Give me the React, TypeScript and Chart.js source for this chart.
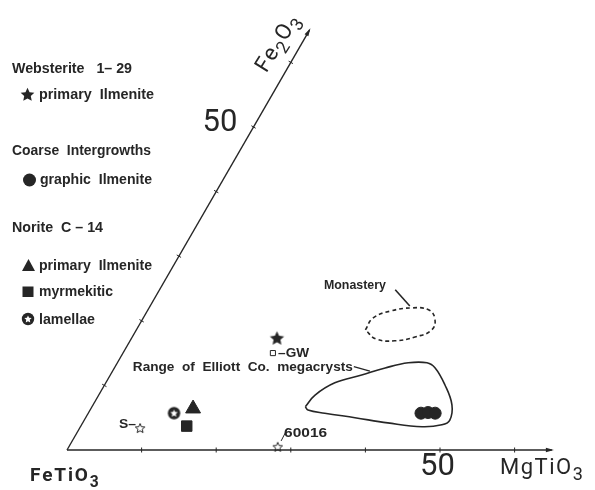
import React, { useEffect, useRef } from 'react';
import { Chart, registerables } from 'chart.js';

Chart.register(...registerables);

// ---------- data (ternary: [MgTiO3 %, Fe2O3 %]) ----------
const AXIS_END = 65;
const TICK_VALUES = [10, 20, 30, 40, 50, 60];
const WEBSTERITE_PRIMARY = [[19.5, 17.3]];
const GW_POINT = [[20.1, 15.0]];
const S_POINT = [[8.1, 3.4]];
const P60016 = [[28.0, 0.5]];
const NORITE_LAMELLAE = [[11.5, 5.7]];
const NORITE_PRIMARY = [[13.7, 6.4]];
const NORITE_MYRMEKITIC = [[14.2, 3.7]];
const COARSE_GRAPHIC = [[44.6, 5.7], [45.5, 5.8], [46.5, 5.7]];
const ELLIOTT_RANGE = [
  [28.6, 6.7], [29.0, 8.5], [30.7, 10.4], [33.7, 11.6], [36.3, 12.7], [39.0, 13.5],
  [41.5, 13.5], [43.0, 12.7], [45.6, 10.1], [48.1, 7.0], [49.0, 4.6], [48.3, 3.9],
  [45.8, 3.6], [40.9, 4.2], [36.1, 5.0], [31.7, 5.7], [29.2, 6.2], [28.6, 6.7],
];
const MONASTERY_RANGE = [
  [30.7, 18.6], [30.8, 20.4], [32.6, 21.5], [35.3, 22.0], [37.6, 21.7], [39.1, 20.4],
  [39.6, 18.6], [37.9, 17.5], [35.5, 16.9], [32.8, 17.2], [30.7, 18.6],
];
const LEADER_MONASTERY = [[31.6, 24.8], [34.8, 22.3]];
const LEADER_ELLIOTT = [[32.0, 12.9], [34.5, 12.2]];
const LEADER_60016 = [[28.0, 1.4], [27.9, 3.3]];

// ---------- layout / style ----------
const W = 595;
const H = 490;
const PX = 7.46; // pixels per percent
const ORIGIN_X = 67;
const ORIGIN_Y = 450;
const INK = '#262626';
const LABEL_FAMILY = '"Liberation Sans", Arial, sans-serif';
const BIG_FONT = 'Roboto, "Liberation Sans", sans-serif';

const tern = (p: number[]) => ({ x: p[0] + p[1] / 2, y: (p[1] * Math.sqrt(3)) / 2 });
const pts = (arr: number[][]) => arr.map(tern);

function starPath(ctx: CanvasRenderingContext2D, cx: number, cy: number, R: number, r: number) {
  ctx.beginPath();
  for (let i = 0; i < 10; i++) {
    const a = -Math.PI / 2 + (i * Math.PI) / 5;
    const rad = i % 2 === 0 ? R : r;
    const x = cx + Math.cos(a) * rad;
    const y = cy + Math.sin(a) * rad;
    if (i === 0) ctx.moveTo(x, y);
    else ctx.lineTo(x, y);
  }
  ctx.closePath();
}

function makeCanvas(size: number, draw: (c: CanvasRenderingContext2D, s: number) => void) {
  const c = document.createElement('canvas');
  c.width = size;
  c.height = size;
  const ctx = c.getContext('2d')!;
  draw(ctx, size);
  return c;
}

const filledStar = (ctx: CanvasRenderingContext2D, x: number, y: number, R: number) => {
  starPath(ctx, x, y, R, R * 0.48);
  ctx.fillStyle = INK;
  ctx.fill();
};
const openStar = (ctx: CanvasRenderingContext2D, x: number, y: number, R: number) => {
  starPath(ctx, x, y, R, R * 0.45);
  ctx.fillStyle = '#fff';
  ctx.fill();
  ctx.strokeStyle = INK;
  ctx.lineWidth = 1;
  ctx.stroke();
};
const lamellaeSym = (ctx: CanvasRenderingContext2D, x: number, y: number, r: number) => {
  ctx.beginPath();
  ctx.arc(x, y, r, 0, Math.PI * 2);
  ctx.fillStyle = INK;
  ctx.fill();
  starPath(ctx, x, y + 0.3, r * 0.62, r * 0.3);
  ctx.fillStyle = '#fff';
  ctx.fill();
};

type Part = [string, boolean];
function chemWidth(ctx: CanvasRenderingContext2D, parts: Part[], size: number, weight: string, spacing: number) {
  let w = 0;
  for (const [t, sub] of parts) {
    ctx.font = `${weight} ${sub ? size * 0.82 : size}px ${BIG_FONT}`;
    for (const ch of t) w += ctx.measureText(ch).width + spacing;
  }
  return w - spacing;
}
function drawChem(ctx: CanvasRenderingContext2D, parts: Part[], x: number, y: number, size: number, weight: string, spacing: number) {
  let cx = x;
  ctx.textBaseline = 'alphabetic';
  ctx.textAlign = 'left';
  for (const [t, sub] of parts) {
    ctx.font = `${weight} ${sub ? size * 0.82 : size}px ${BIG_FONT}`;
    for (const ch of t) {
      ctx.fillText(ch, cx, y + (sub ? size * 0.28 : 0));
      cx += ctx.measureText(ch).width + spacing;
    }
  }
}

// draws bold label text squeezed horizontally to a given width (condensed look)
function fitText(ctx: CanvasRenderingContext2D, s: string, x: number, y: number, width: number, size: number, align: 'left' | 'right' = 'left') {
  ctx.font = `700 ${size}px ${LABEL_FAMILY}`;
  ctx.textAlign = 'left';
  ctx.textBaseline = 'middle';
  const m = ctx.measureText(s).width;
  const k = width / m;
  ctx.save();
  ctx.translate(align === 'left' ? x : x - width, y);
  ctx.scale(k, 1);
  ctx.fillText(s, 0, 0);
  ctx.restore();
}

const overlayPlugin = {
  id: 'ternaryOverlay',
  afterDatasetsDraw(chart: any) {
    const ctx: CanvasRenderingContext2D = chart.ctx;
    const sx = chart.scales.x;
    const sy = chart.scales.y;
    const P = (p: number[]) => {
      const c = tern(p);
      return [sx.getPixelForValue(c.x), sy.getPixelForValue(c.y)];
    };
    ctx.save();
    ctx.strokeStyle = INK;
    ctx.fillStyle = INK;
    ctx.lineWidth = 1;
    // ticks
    for (const t of TICK_VALUES) {
      const [bx, by] = P([t, 0]);
      ctx.beginPath();
      ctx.moveTo(bx, by - 2.5);
      ctx.lineTo(bx, by + 2.5);
      ctx.stroke();
      const [lx, ly] = P([0, t]);
      const nx = Math.sqrt(3) / 2;
      const ny = 0.5;
      ctx.beginPath();
      ctx.moveTo(lx - nx * 2.5, ly - ny * 2.5);
      ctx.lineTo(lx + nx * 2.5, ly + ny * 2.5);
      ctx.stroke();
    }
    // arrow heads
    const [ax, ay] = P([AXIS_END, 0]);
    ctx.beginPath();
    ctx.moveTo(ax + 2, ay);
    ctx.lineTo(ax - 6, ay - 2.2);
    ctx.lineTo(ax - 6, ay + 2.2);
    ctx.closePath();
    ctx.fill();
    const [tx, ty] = P([0, AXIS_END]);
    ctx.save();
    ctx.translate(tx, ty);
    ctx.rotate(-Math.PI / 3);
    ctx.beginPath();
    ctx.moveTo(2, 0);
    ctx.lineTo(-6, -2.2);
    ctx.lineTo(-6, 2.2);
    ctx.closePath();
    ctx.fill();
    ctx.restore();

    // big labels
    ctx.font = `400 31px ${BIG_FONT}`;
    ctx.textAlign = 'center';
    ctx.textBaseline = 'middle';
    const [b50x, b50y] = P([50.9, -2.5]);
    ctx.fillText('50', b50x, b50y + 1);
    const [l50x, l50y] = P([-4.9, 50.8]);
    ctx.fillText('50', l50x, l50y + 1);

    const fe = P([-3.0, -3.9]);
    drawChem(ctx, [['FeTiO', false], ['3', true]], fe[0], fe[1] + 6, 19, '700', 1.8);
    const mg = P([59.3, -2.5]);
    drawChem(ctx, [['MgTiO', false], ['3', true]], mg[0], mg[1] + 8, 22, '400', 1.5);

    const f2 = P([-3.35, 63.0]);
    ctx.save();
    ctx.translate(f2[0], f2[1]);
    ctx.rotate(-Math.PI / 3 + 0.03);
    const parts: Part[] = [['Fe', false], ['2', true], ['O', false], ['3', true]];
    const fw = chemWidth(ctx, parts, 22, '400', 1);
    drawChem(ctx, parts, -fw / 2, 7, 22, '400', 1);
    ctx.restore();

    // annotation labels
    const ann = (s: string, at: number[], width: number, align: 'left' | 'right' = 'left', size = 13) => {
      const [x, y] = P(at);
      fitText(ctx, s, x, y, width, size, align);
    };
    ann('Monastery', [30.0, 25.5], 62, 'right');
    ann('Range  of  Elliott  Co.  megacrysts', [2.4, 12.85], 220);
    ann('–GW', [20.8, 15.0], 31);
    ann('S–', [7.3, 3.9], 17, 'right');
    ann('60016', [27.8, 2.6], 43);

    // legend (pixel layout)
    const L = chart.chartArea.left;
    const T = chart.chartArea.top;
    const text = (s: string, x: number, y: number, w: number) => fitText(ctx, s, L + x, T + y, w, 15);
    text('Websterite   1– 29', 12, 69, 120);
    filledStar(ctx, L + 27.5, T + 95, 7.2);
    ctx.fillStyle = INK;
    text('primary  Ilmenite', 39, 95, 115);
    text('Coarse  Intergrowths', 12, 151, 139);
    ctx.beginPath();
    ctx.arc(L + 29.5, T + 180, 6.5, 0, Math.PI * 2);
    ctx.fill();
    text('graphic  Ilmenite', 40, 180, 112);
    text('Norite  C – 14', 12, 228, 91);
    ctx.beginPath();
    ctx.moveTo(L + 28.5, T + 259);
    ctx.lineTo(L + 35, T + 271);
    ctx.lineTo(L + 22, T + 271);
    ctx.closePath();
    ctx.fill();
    text('primary  Ilmenite', 39, 266, 113);
    ctx.fillRect(L + 22.5, T + 286.5, 11, 10.5);
    text('myrmekitic', 39, 292, 74);
    lamellaeSym(ctx, L + 28, T + 319, 6.2);
    ctx.fillStyle = INK;
    text('lamellae', 39, 320, 56);
    ctx.restore();
  },
};

export default function App() {
  const ref = useRef<HTMLCanvasElement | null>(null);
  useEffect(() => {
    if (!ref.current) return;
    const starBig = makeCanvas(17, (c, s) => filledStar(c, s / 2, s / 2 + 0.5, 7.5));
    const starSmall = makeCanvas(12, (c, s) => openStar(c, s / 2, s / 2 + 0.5, 5));
    const lam = makeCanvas(15, (c, s) => lamellaeSym(c, s / 2, s / 2, 6.2));

    const lineDs = (data: number[][], extra: any = {}) => ({
      data: pts(data),
      showLine: true,
      borderColor: INK,
      borderWidth: 1.3,
      pointRadius: 0,
      fill: false,
      ...extra,
    });
    const pointDs = (data: number[][], extra: any) => ({
      data: pts(data),
      showLine: false,
      borderColor: INK,
      backgroundColor: INK,
      borderWidth: 1,
      ...extra,
    });

    const chart = new Chart(ref.current, {
      type: 'scatter',
      data: {
        datasets: [
          lineDs([[0, 0], [AXIS_END, 0]], { borderWidth: 1.4 }),
          lineDs([[0, 0], [0, AXIS_END]], { borderWidth: 1.4 }),
          lineDs(ELLIOTT_RANGE, { tension: 0.4, borderWidth: 1.6 }),
          lineDs(MONASTERY_RANGE, { tension: 0.45, borderWidth: 1.6, borderDash: [4, 3] }),
          lineDs(LEADER_MONASTERY, { borderWidth: 1.6 }),
          lineDs(LEADER_ELLIOTT, { borderWidth: 1.4 }),
          lineDs(LEADER_60016, { borderWidth: 1 }),
          pointDs(COARSE_GRAPHIC, { pointStyle: 'circle', pointRadius: 6 }),
          pointDs(WEBSTERITE_PRIMARY, { pointStyle: starBig, pointRadius: 7 }),
          pointDs(GW_POINT, { pointStyle: 'rect', pointRadius: 3.6, backgroundColor: '#fff' }),
          pointDs(S_POINT, { pointStyle: starSmall, pointRadius: 5 }),
          pointDs(P60016, { pointStyle: starSmall, pointRadius: 5 }),
          pointDs(NORITE_LAMELLAE, { pointStyle: lam, pointRadius: 6 }),
          pointDs(NORITE_PRIMARY, { pointStyle: 'triangle', pointRadius: 8.6 }),
          pointDs(NORITE_MYRMEKITIC, { pointStyle: 'rect', pointRadius: 7.4 }),
        ],
      },
      options: {
        animation: false,
        responsive: true,
        maintainAspectRatio: false,
        layout: { padding: 0, autoPadding: false },
        plugins: { legend: { display: false }, tooltip: { enabled: false } },
        events: [],
        scales: {
          x: { type: 'linear', display: false, min: -ORIGIN_X / PX, max: (W - ORIGIN_X) / PX },
          y: { type: 'linear', display: false, min: -(H - ORIGIN_Y) / PX, max: ORIGIN_Y / PX },
        },
      },
      plugins: [overlayPlugin],
    });
    return () => chart.destroy();
  }, []);
  return (
    <div style={{ position: 'absolute', left: 0, top: 0, width: W, height: H, background: '#fff' }}>
      <canvas ref={ref} />
    </div>
  );
}
